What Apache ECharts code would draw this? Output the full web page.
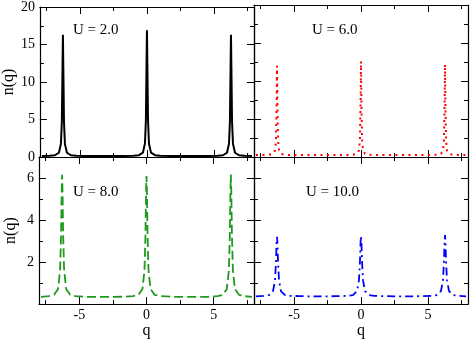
<!DOCTYPE html>
<html>
<head>
<meta charset="utf-8">
<script src="https://cdn.jsdelivr.net/npm/echarts@6/dist/echarts.min.js"></script>
<style>html,body{margin:0;padding:0;background:#fff;}#c{width:471px;height:340px;}</style>
</head>
<body>
<div id="c"></div>
<script>
// ---- data ----
const q = [-7.85, -7.28, -6.88, -6.58, -6.43, -6.36, -6.31, -6.28, -6.25, -6.20, -6.13, -5.98, -5.68, -5.28,
  -4.6, -3.9, -3.2, -2.5, -1.8,
  -1.0, -0.6, -0.3, -0.15, -0.08, -0.03, 0, 0.03, 0.08, 0.15, 0.3, 0.6, 1.0,
  1.8, 2.5, 3.2, 3.9, 4.6,
  5.28, 5.68, 5.98, 6.13, 6.20, 6.25, 6.28, 6.31, 6.36, 6.43, 6.58, 6.88, 7.28, 7.85];

const nU2 = [0.13, 0.16, 0.23, 0.57, 1.75, 4.7, 12.0, 16.3, 12.0, 4.7, 1.75, 0.57, 0.23, 0.16,
  0.14, 0.13, 0.12, 0.13, 0.14,
  0.16, 0.24, 0.58, 1.8, 4.85, 12.5, 16.9, 12.5, 4.85, 1.8, 0.58, 0.24, 0.16,
  0.14, 0.13, 0.12, 0.13, 0.14,
  0.16, 0.23, 0.57, 1.75, 4.7, 12.0, 16.3, 12.0, 4.7, 1.75, 0.57, 0.23, 0.16, 0.13];

const nU6 = [0.25, 0.27, 0.29, 0.41, 0.86, 2.15, 7.0, 12.0, 7.0, 2.15, 0.86, 0.41, 0.29, 0.27,
  0.26, 0.25, 0.25, 0.25, 0.26,
  0.27, 0.29, 0.42, 0.89, 2.24, 7.35, 12.6, 7.35, 2.24, 0.89, 0.42, 0.29, 0.27,
  0.26, 0.25, 0.25, 0.25, 0.26,
  0.27, 0.29, 0.41, 0.87, 2.17, 7.1, 12.2, 7.1, 2.17, 0.87, 0.41, 0.29, 0.27, 0.25];

const nU8 = [0.34, 0.38, 0.44, 0.72, 1.62, 3.24, 5.43, 6.15, 5.43, 3.24, 1.62, 0.72, 0.44, 0.38,
  0.35, 0.34, 0.34, 0.34, 0.35,
  0.38, 0.44, 0.72, 1.61, 3.22, 5.39, 6.1, 5.39, 3.22, 1.61, 0.72, 0.44, 0.38,
  0.35, 0.34, 0.34, 0.34, 0.35,
  0.38, 0.44, 0.72, 1.62, 3.24, 5.43, 6.17, 5.43, 3.24, 1.62, 0.72, 0.44, 0.38, 0.34];

const nU10 = [0.37, 0.39, 0.43, 0.61, 1.12, 1.96, 2.94, 3.2, 2.94, 1.96, 1.12, 0.61, 0.43, 0.39,
  0.38, 0.37, 0.37, 0.37, 0.38,
  0.39, 0.43, 0.62, 1.14, 1.99, 2.98, 3.25, 2.98, 1.99, 1.14, 0.62, 0.43, 0.39,
  0.38, 0.37, 0.37, 0.37, 0.38,
  0.39, 0.43, 0.62, 1.14, 2.0, 3.0, 3.28, 3.0, 2.0, 1.14, 0.62, 0.43, 0.39, 0.37];

const panelLabels = ['U = 2.0', 'U = 6.0', 'U = 8.0', 'U = 10.0'];
const xMajor = [-5, 0, 5];
const xMinor = [-7.5, -2.5, 2.5, 7.5];
const yTopMajor = [0, 5, 10, 15, 20];
const yTopMinor = [2.5, 7.5, 12.5, 17.5];
const yBotMajor = [2, 4, 6];
const yBotMinor = [1, 3, 5];
const xRange = [-8, 8];
const yTopRange = [0, 20];
const yBotRange = [0, 7];

// ---- layout ----
const FONT = '"Liberation Serif", "Times New Roman", serif';
const grids = [
  {left: 39, top: 5, width: 215, height: 152},
  {left: 254, top: 5, width: 214, height: 152},
  {left: 39, top: 157, width: 215, height: 152},
  {left: 254, top: 157, width: 214, height: 152}
];
const seriesData = [nU2, nU6, nU8, nU10];
const styles = [
  {color: '#000000', width: 2, type: 'solid'},
  {color: '#ff0000', width: 2, type: [2, 4.5]},
  {color: '#1f9a1f', width: 1.8, type: [9, 4]},
  {color: '#0000ff', width: 1.8, type: [8, 4, 2, 4]}
];

const xAxes = [], yAxes = [];
for (let g = 0; g < 4; g++) {
  const bottomRow = g >= 2, leftCol = (g % 2 === 0);
  const yMaj = bottomRow ? yBotMajor : yTopMajor;
  const yMin = bottomRow ? yBotMinor : yTopMinor;
  const yR = bottomRow ? yBotRange : yTopRange;
  ['bottom', 'top'].forEach(pos => {
    [true, false].forEach(major => {
      xAxes.push({
        type: 'value', gridIndex: g, position: pos, min: xRange[0], max: xRange[1],
        name: (major && pos === 'bottom' && bottomRow) ? 'q' : '',
        nameLocation: 'middle', nameGap: 11,
        nameTextStyle: {fontFamily: FONT, fontSize: 16, color: '#000'},
        axisLine: {show: major, onZero: false, lineStyle: {color: '#000', width: 1.2}},
        axisTick: {show: true, inside: true, length: major ? 7 : 4,
          customValues: major ? xMajor : xMinor, lineStyle: {color: '#000', width: 1}},
        axisLabel: {show: major && pos === 'bottom' && bottomRow, customValues: xMajor,
          fontFamily: FONT, fontSize: 14, color: '#000', margin: 4},
        splitLine: {show: false}
      });
    });
  });
  ['left', 'right'].forEach(pos => {
    [true, false].forEach(major => {
      yAxes.push({
        type: 'value', gridIndex: g, position: pos, min: yR[0], max: yR[1],
        name: (major && pos === 'left' && leftCol) ? 'n(q)' : '',
        nameLocation: 'middle', nameGap: 20, nameRotate: 90,
        nameTextStyle: {fontFamily: FONT, fontSize: 16, color: '#000'},
        axisLine: {show: major, onZero: false, lineStyle: {color: '#000', width: 1.2}},
        axisTick: {show: true, inside: true, length: major ? 7 : 4,
          customValues: major ? yMaj : yMin, lineStyle: {color: '#000', width: 1}},
        axisLabel: {show: major && pos === 'left' && leftCol, customValues: yMaj,
          fontFamily: FONT, fontSize: 14, color: '#000', margin: 5},
        splitLine: {show: false}
      });
    });
  });
}

const series = seriesData.map((arr, g) => ({
  type: 'line', xAxisIndex: 4 * g, yAxisIndex: 4 * g,
  data: q.map((v, i) => [v, arr[i]]),
  showSymbol: false, symbol: 'none', smooth: false, animation: false,
  lineStyle: styles[g], clip: true
}));

const labelPos = [[73, 23], [312, 23], [73, 185], [306, 185]];
const graphic = panelLabels.map((t, i) => ({
  type: 'text', left: labelPos[i][0], top: labelPos[i][1],
  style: {text: t, font: '15px ' + FONT, fill: '#000'}
}));

const chart = echarts.init(document.getElementById('c'), null, {renderer: 'canvas'});
chart.setOption({
  animation: false,
  backgroundColor: '#fff',
  grid: grids,
  xAxis: xAxes,
  yAxis: yAxes,
  series: series,
  graphic: graphic
});
</script>
</body>
</html>
